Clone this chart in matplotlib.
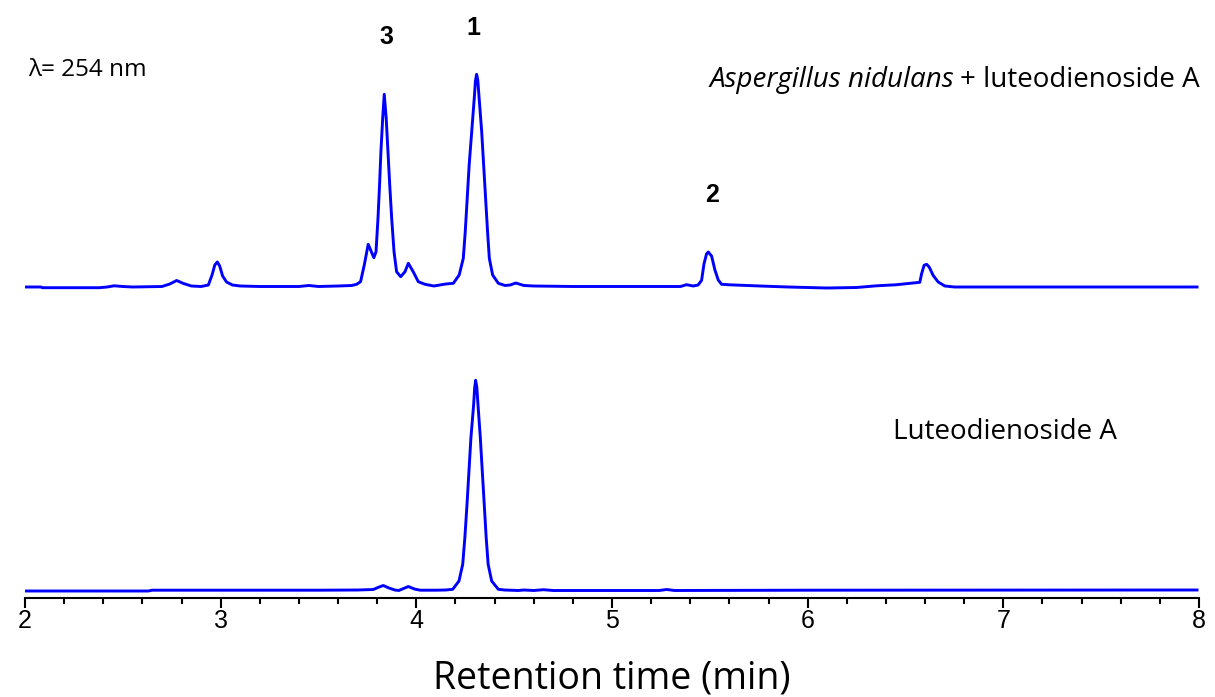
import matplotlib
matplotlib.use("Agg")
import matplotlib.pyplot as plt
from matplotlib.ticker import MultipleLocator

# chromatogram: retention time (min), signal (arb. units)
mix_time = [2.00, 2.08, 2.09, 2.38, 2.42, 2.455, 2.50, 2.55, 2.70, 2.74, 2.775, 2.81, 2.85, 2.90,
            2.937, 2.956, 2.970, 2.983, 2.995, 3.010, 3.030, 3.060, 3.10, 3.20, 3.40, 3.45, 3.50,
            3.60, 3.67, 3.695, 3.715, 3.734, 3.754, 3.783, 3.794, 3.804, 3.812, 3.819, 3.828,
            3.836, 3.846, 3.855, 3.864, 3.874, 3.886, 3.899, 3.920, 3.942, 3.959, 3.984, 4.010,
            4.044, 4.09, 4.15, 4.189, 4.219, 4.240, 4.250, 4.260, 4.270, 4.283, 4.296, 4.302,
            4.308, 4.314, 4.321, 4.334, 4.344, 4.354, 4.364, 4.373, 4.390, 4.419, 4.453, 4.48,
            4.508, 4.55, 4.60, 4.80, 5.00, 5.20, 5.35, 5.381, 5.415, 5.440, 5.458, 5.470, 5.483,
            5.492, 5.500, 5.509, 5.526, 5.543, 5.560, 5.60, 5.756, 5.90, 6.097, 6.25, 6.352,
            6.45, 6.573, 6.582, 6.595, 6.608, 6.621, 6.641, 6.667, 6.701, 6.75, 7.00, 7.50, 7.99]
mix_signal = [0.0, 0.0, -0.7, -0.7, 0.0, 1.2, 0.5, 0.0, 0.5, 3.0, 6.5, 3.5, 1.0, 0.5,
              2.0, 12.0, 22.0, 25.0, 21.0, 11.0, 5.0, 2.0, 1.0, 0.5, 0.5, 1.5, 0.5,
              1.0, 1.5, 2.7, 5.3, 22.0, 42.7, 29.3, 35.3, 68.7, 102.0, 135.3, 168.7,
              192.7, 168.7, 135.3, 102.0, 68.7, 35.3, 15.3, 10.3, 15.3, 23.7, 15.3, 5.3,
              2.7, 1.0, 3.0, 3.7, 12.0, 28.7, 55.3, 88.7, 122.0, 155.3, 188.7, 206.0,
              212.7, 207.0, 188.7, 155.3, 122.0, 88.7, 55.3, 28.7, 12.0, 3.7, 1.5, 2.0,
              4.0, 1.5, 1.0, 0.5, 0.5, 0.5, 0.5, 2.3, 1.0, 2.0, 6.7, 23.0, 33.0,
              35.0, 33.0, 31.0, 17.0, 7.0, 2.7, 2.2, 1.0, 0.0, -1.0, -0.5, 1.2,
              2.2, 4.7, 13.0, 21.7, 22.7, 20.0, 11.7, 5.0, 1.0, 0.0, 0.0, 0.0, 0.0]

std_time = [2.00, 2.63, 2.65, 3.50, 3.70, 3.78, 3.81, 3.831, 3.86, 3.89, 3.91, 3.935, 3.959,
            3.99, 4.02, 4.10, 4.15, 4.186, 4.218, 4.237, 4.248, 4.259, 4.269, 4.279, 4.293,
            4.298, 4.303, 4.309, 4.315, 4.327, 4.337, 4.347, 4.357, 4.367, 4.385, 4.419, 4.45,
            4.52, 4.55, 4.60, 4.65, 4.70, 5.00, 5.24, 5.28, 5.32, 6.00, 7.99]
std_signal = [0.0, 0.0, 0.8, 0.8, 1.0, 1.5, 4.0, 5.5, 3.0, 1.0, 0.5, 2.5, 4.5,
              2.0, 0.8, 0.8, 1.0, 1.7, 10.0, 26.7, 53.3, 86.7, 120.0, 153.3, 186.7,
              203.0, 210.7, 204.0, 186.7, 153.3, 120.0, 86.7, 53.3, 26.7, 10.0, 1.7, 1.0,
              0.5, 1.0, 0.5, 1.3, 0.5, 0.5, 0.5, 1.5, 0.5, 0.8, 1.0]

mix_offset = 304  # vertical stacking of the upper trace

peak_labels = ["3", "1", "2"]
peak_times = [3.845, 4.294, 5.51]

fig = plt.figure(figsize=(12.15, 6.97), dpi=100)
ax = fig.add_axes([25 / 1215, 99 / 697, 1174 / 1215, 598 / 697])

ax.plot(mix_time, [s + mix_offset for s in mix_signal], color="#0000ff", lw=2.1,
        solid_joinstyle="round")
ax.plot(std_time, std_signal, color="#0000ff", lw=2.1, solid_joinstyle="round")

ax.set_xlim(2, 8)
ax.set_ylim(-7, 591)

for side in ["left", "right", "top"]:
    ax.spines[side].set_visible(False)
ax.spines["bottom"].set_linewidth(1.5)
ax.set_yticks([])
ax.xaxis.set_major_locator(MultipleLocator(1))
ax.xaxis.set_minor_locator(MultipleLocator(0.2))
ax.tick_params(axis="x", which="major", direction="out", length=7, width=1.5,
               labelsize=18, pad=1)
ax.tick_params(axis="x", which="minor", direction="out", length=4, width=1.5)
for lab in ax.get_xticklabels():
    lab.set_fontfamily("Liberation Sans")

fig.text(612 / 1215, 1 - 688 / 697, "Retention time (min)", ha="center", va="baseline",
         fontsize=27, family="Open Sans")

# peak numbers
label_heights = [554, 563, 396]
for lab, t, h in zip(peak_labels, peak_times, label_heights):
    ax.text(t, h, lab, ha="center", va="center", fontsize=18, fontweight="bold",
            family="Liberation Sans")

fig.text(28 / 1215, 1 - 70 / 697, "λ= 254 nm", ha="left", va="center",
         fontsize=17.5, family="Open Sans")
t1 = fig.text(1200 / 1215, 1 - 80 / 697, "+ luteodienoside A", ha="right", va="center",
              fontsize=20, family="Open Sans")
fig.canvas.draw()
bb = t1.get_window_extent()
fig.text((bb.x0 - 6) / 1215, 1 - 80 / 697, "Aspergillus nidulans", ha="right",
         va="center", fontsize=20, family="Open Sans", style="italic")
fig.text(893 / 1215, 1 - 432 / 697, "Luteodienoside A", ha="left", va="center",
         fontsize=20, family="Open Sans")

fig.savefig("out.png", dpi=100)
